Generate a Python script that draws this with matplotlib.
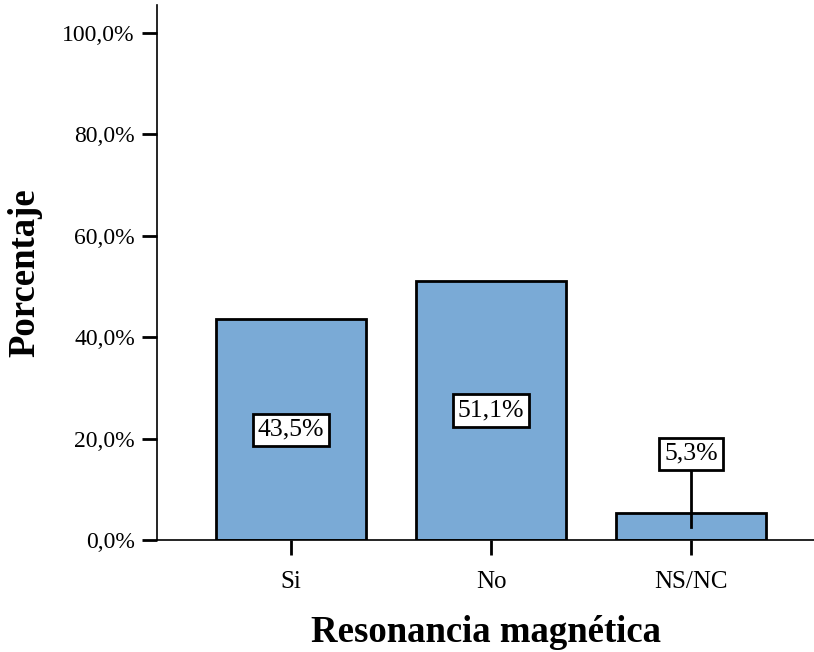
import matplotlib
matplotlib.use("Agg")
import matplotlib.pyplot as plt
import numpy as np

# data
categories = ["Si", "No", "NS/NC"]
percentages = [43.5, 51.1, 5.3]
label_texts = ["43,5%", "51,1%", "5,3%"]
label_heights = [21.75, 25.55, 17.0]   # where each value box sits
yticks = [0, 20, 40, 60, 80, 100]
ytick_labels = ["0,0%", "20,0%", "40,0%", "60,0%", "80,0%", "100,0%"]

plt.rcParams['font.family'] = ['Liberation Serif', 'DejaVu Serif']

fig = plt.figure(figsize=(8.14, 6.52), dpi=100)
ax = fig.add_axes([0.1929, 0.1718, 0.8071, 0.8205])

x = np.arange(len(categories))
ax.bar(x, percentages, width=0.75, color="#7aaad6", edgecolor="black", linewidth=2, zorder=2)

box = dict(boxstyle="square,pad=0.2", facecolor="white", edgecolor="black", linewidth=2)
for xi, val, txt, h in zip(x, percentages, label_texts, label_heights):
    if h > val:
        # label sits above a short bar, joined by a line
        ax.plot([xi, xi], [val / 2, h], color="black", linewidth=2, zorder=3)
    ax.text(xi, h, txt, ha="center", va="center", fontsize=18.5, bbox=box, zorder=4)

ax.set_xlim(-0.67, 2.615)
ax.set_ylim(0, 105.5)
ax.set_xticks(x)
ax.set_xticklabels(categories, fontsize=18)
ax.set_yticks(yticks)
ax.set_yticklabels(ytick_labels, fontsize=17)
ax.tick_params(axis="both", length=11, width=2)
ax.tick_params(axis="y", pad=5)
ax.tick_params(axis="x", pad=11)

for side in ["top", "right"]:
    ax.spines[side].set_visible(False)
ax.spines["left"].set_linewidth(1.2)
ax.spines["bottom"].set_linewidth(1.2)

ax.set_xlabel("Resonancia magnética", fontsize=26.5, fontweight="bold", labelpad=16)
ax.set_ylabel("Porcentaje", fontsize=26.5, fontweight="bold", labelpad=14)

fig.savefig("out.png", dpi=100)
